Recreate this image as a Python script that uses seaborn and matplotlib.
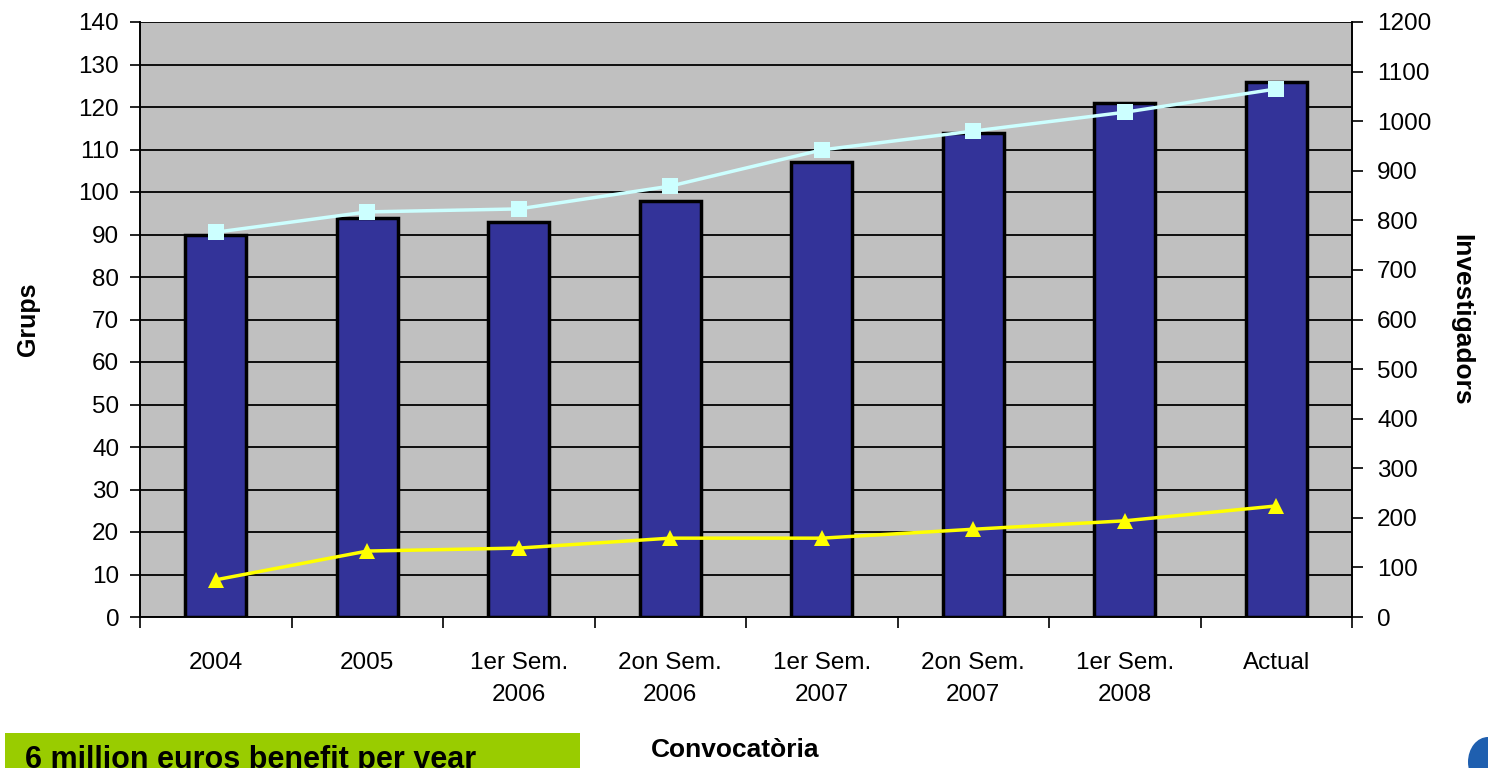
import matplotlib
matplotlib.use("Agg")
import numpy as np
import pandas as pd
import matplotlib.pyplot as plt
import seaborn as sns
from matplotlib.patches import Rectangle, Ellipse

categories = ["2004", "2005", "1er Sem.\n2006", "2on Sem.\n2006", "1er Sem.\n2007",
              "2on Sem.\n2007", "1er Sem.\n2008", "Actual"]
grups = [90, 94, 93, 98, 107, 114, 121, 126]
investigadors = [776, 817, 823, 869, 942, 980, 1018, 1065]
altres = [75, 133, 139, 159, 159, 177, 194, 224]

sns.set_style("white")
plt.rcParams["font.family"] = ["Liberation Sans", "DejaVu Sans"]
plt.rcParams.update({"text.color": "black", "axes.labelcolor": "black",
                     "xtick.color": "black", "ytick.color": "black"})

df = pd.DataFrame({"cat": categories, "grups": grups})

fig = plt.figure(figsize=(14.88, 7.68), dpi=100)
ax = fig.add_axes([140 / 1488, 1 - 617 / 768, (1352 - 140) / 1488, (617 - 22) / 768])
ax.set_facecolor("#C0C0C0")

sns.barplot(data=df, x="cat", y="grups", color="#333399", width=0.4,
            edgecolor="black", linewidth=2.5, saturation=1, ax=ax, zorder=3)
ax.set_ylim(0, 140)
ax.set_yticks(range(0, 141, 10))
ax.set_xlim(-0.5, 7.5)
ax.yaxis.grid(True, color="black", linewidth=1.3)
ax.set_axisbelow(True)
ax.set_xlabel("")
ax.set_ylabel("Grups", fontsize=18, fontweight="bold", labelpad=28)
ax.tick_params(axis="y", labelsize=17.5, direction="out", length=7, width=1.2,
               left=True, pad=8)
ax.tick_params(axis="x", which="major", labelsize=17.5, length=0, pad=25)
ax.set_xticks(np.arange(-0.5, 8, 1), minor=True)
ax.tick_params(axis="x", which="minor", direction="out", length=8, width=1.2, bottom=True)
for lab in ax.get_xticklabels():
    lab.set_linespacing(1.6)

ax2 = ax.twinx()
x = np.arange(len(categories))
sns.lineplot(x=x, y=investigadors, ax=ax2, color="#CCFFFF", linewidth=2.5,
             marker="s", markersize=11, markeredgewidth=0, zorder=5)
sns.lineplot(x=x, y=altres, ax=ax2, color="#FFFF00", linewidth=2.5,
             marker="^", markersize=11, markeredgewidth=0, zorder=5)
ax2.set_ylim(0, 1200)
ax2.set_yticks(range(0, 1201, 100))
ax2.set_xlim(-0.5, 7.5)
ax2.tick_params(axis="y", labelsize=17.5, direction="out", length=8, width=1.2,
                right=True, pad=10)
ax2.set_ylabel("Investigadors", fontsize=19, fontweight="bold", rotation=-90, labelpad=30)

for a in (ax, ax2):
    for s in a.spines.values():
        s.set_color("black")
        s.set_linewidth(1.2)
ax2.spines["top"].set_visible(False)
ax.spines["top"].set_visible(False)

fig.text(735 / 1488, 1 - 738 / 768, "Convocatòria", ha="center", va="top",
         fontsize=19, fontweight="bold")

fig.patches.append(Rectangle((5 / 1488, 0), 575 / 1488, 35 / 768,
                             transform=fig.transFigure, facecolor="#99CC00",
                             edgecolor="none", zorder=0))
fig.text(25 / 1488, 1 - 745 / 768, "6 million euros benefit per year", ha="left",
         va="top", fontsize=22, fontweight="bold", zorder=2)
fig.patches.append(Ellipse((1488 / 1488, 1 - 762 / 768), 40 / 1488, 50 / 768,
                           transform=fig.transFigure, facecolor="#1F5FAF",
                           edgecolor="none"))

fig.savefig("out.png", dpi=100)
